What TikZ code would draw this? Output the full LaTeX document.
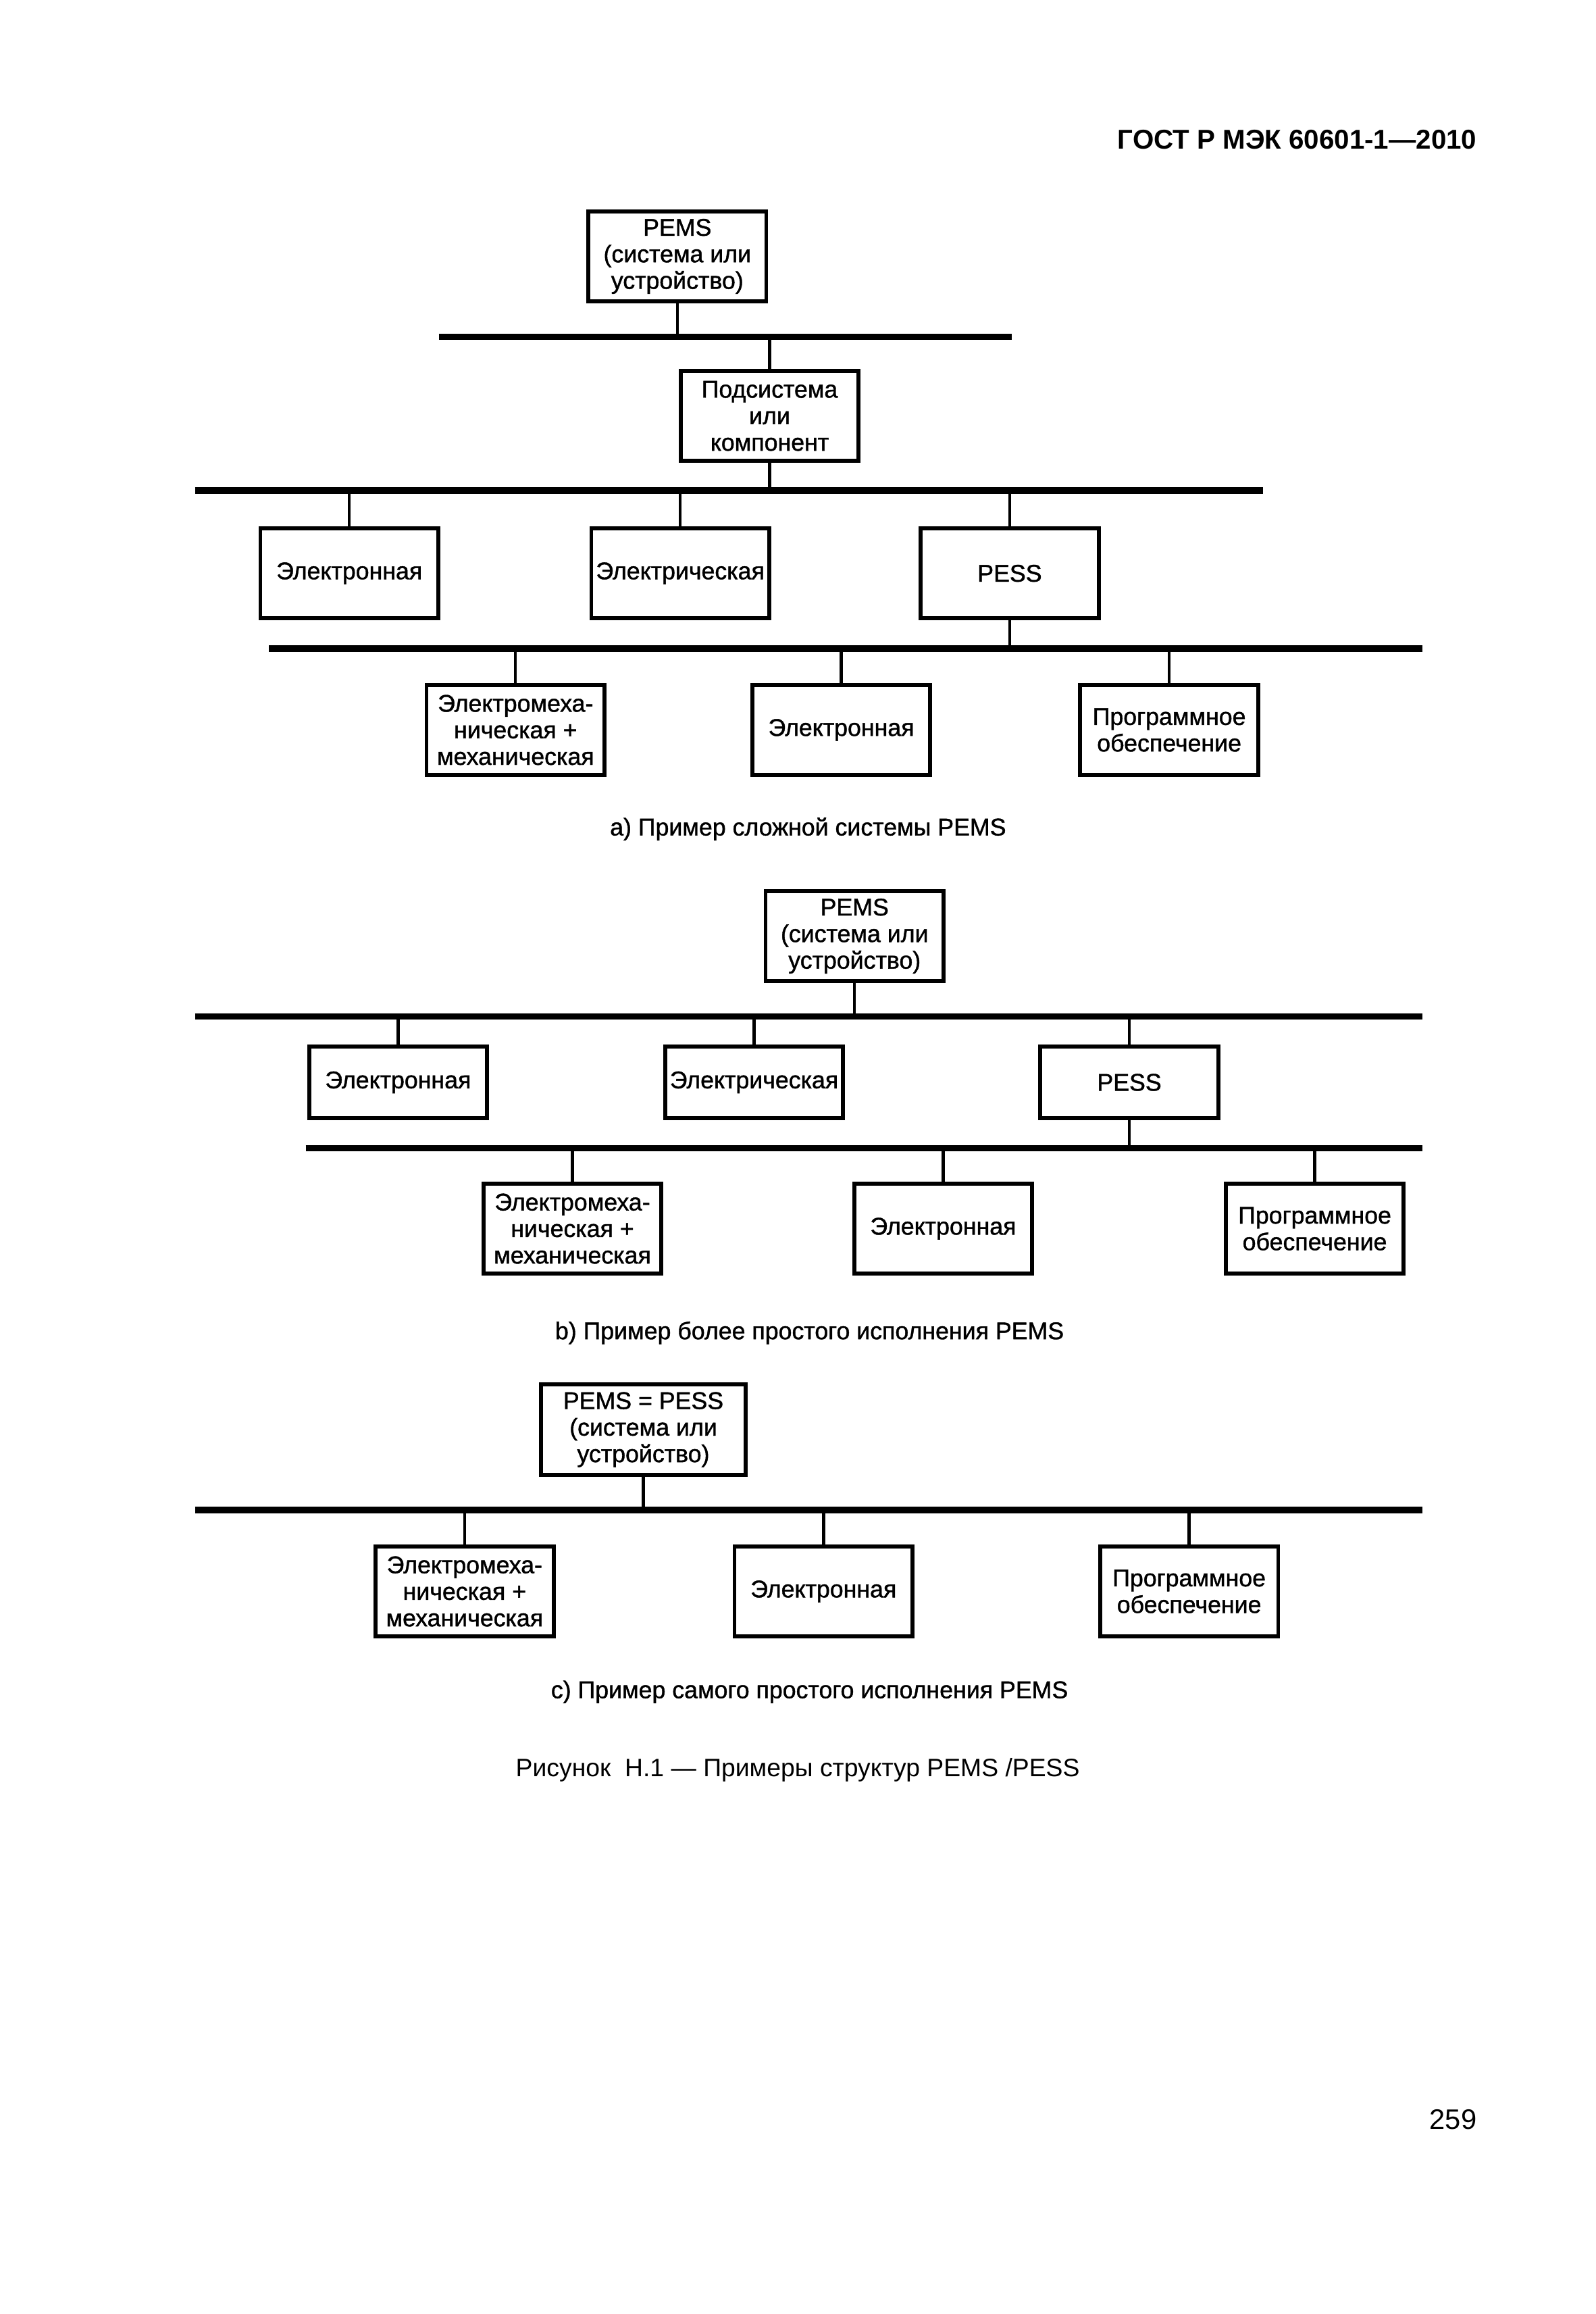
\documentclass[tikz,border=0pt]{standalone}
\usepackage{fontspec}
\setmainfont{Liberation Sans}
\newfontfamily\heavyfont[FakeBold=1.2]{Liberation Sans}
\begin{document}
\begin{tikzpicture}[x=0.551pt,y=-0.551pt,
  box/.style={draw, line width=1.45pt, inner sep=0pt, align=center,
    minimum width=66.4pt, minimum height=33.6pt, font=\heavyfont\fontsize{9}{9.9}\selectfont},
  lowbox/.style={box, minimum height=26.8pt},
  widebox/.style={box, minimum width=76.3pt},
  bar/.style={line width=2.4pt},
  wire/.style={line width=1.1pt},
  captxt/.style={font=\heavyfont\fontsize{9}{11}\selectfont},
]
\useasboundingbox (0,0) rectangle (1080,1566);

% header and page number
\node[anchor=base east, inner sep=0pt, font=\bfseries\fontsize{10.15}{12}\selectfont] (hdr) at (1000,101) {ГОСТ Р МЭК 60601-1—2010};
\node[anchor=base east, inner sep=0pt, font=\fontsize{10.5}{12}\selectfont] (pg) at (1000,1441) {259};

% ---------------- a ----------------
\node[box] (a0) at (458.5,173.5) {PEMS\\(система или\\устройство)};
\coordinate (a1L) at (297,228); \coordinate (a1R) at (685,228);
\draw[bar] (a1L) -- (a1R);
\draw[wire] (a0.south) -- (a0.south |- a1L);
\node[box] (a1) at (521,281.5) {Подсистема\\или\\компонент};
\draw[wire] (a1.north) -- (a1.north |- a1L);
\coordinate (a2L) at (132,332); \coordinate (a2R) at (855,332);
\draw[bar] (a2L) -- (a2R);
\draw[wire] (a1.south) -- (a1.south |- a2L);
\node[box] (aE1) at (236.5,388) {Электронная};
\node[box] (aE2) at (460.5,388) {Электрическая};
\node[box] (aP) at (683.5,388) {PESS};
\foreach \n in {aE1,aE2,aP} \draw[wire] (\n.north) -- (\n.north |- a2L);
\coordinate (a3L) at (182,439); \coordinate (a3R) at (963,439);
\draw[bar] (a3L) -- (a3R);
\draw[wire] (aP.south) -- (aP.south |- a3L);
\node[box] (aM) at (349,494) {Электромеха-\\ническая +\\механическая};
\node[box] (aN) at (569.5,494) {Электронная};
\node[box] (aS) at (791.5,494) {Программное\\обеспечение};
\foreach \n in {aM,aN,aS} \draw[wire] (\n.north) -- (\n.north |- a3L);
\node[captxt] (capa) at (547,561) {а) Пример сложной системы PEMS};

% ---------------- b ----------------
\node[box] (b0) at (578.5,633.5) {PEMS\\(система или\\устройство)};
\coordinate (b1L) at (132,688); \coordinate (b1R) at (963,688);
\draw[bar] (b1L) -- (b1R);
\draw[wire] (b0.south) -- (b0.south |- b1L);
\node[lowbox] (bE1) at (269.5,732.5) {Электронная};
\node[lowbox] (bE2) at (510.5,732.5) {Электрическая};
\node[lowbox] (bP) at (764.5,732.5) {PESS};
\foreach \n in {bE1,bE2,bP} \draw[wire] (\n.north) -- (\n.north |- b1L);
\coordinate (b2L) at (207,777); \coordinate (b2R) at (963,777);
\draw[bar] (b2L) -- (b2R);
\draw[wire] (bP.south) -- (bP.south |- b2L);
\node[box] (bM) at (387.5,831.5) {Электромеха-\\ническая +\\механическая};
\node[box] (bN) at (638.5,831.5) {Электронная};
\node[box] (bS) at (890,831.5) {Программное\\обеспечение};
\foreach \n in {bM,bN,bS} \draw[wire] (\n.north) -- (\n.north |- b2L);
\node[captxt] (capb) at (548,902) {b) Пример более простого исполнения PEMS};

% ---------------- c ----------------
\node[widebox] (c0) at (435.5,967.5) {PEMS = PESS\\(система или\\устройство)};
\coordinate (c1L) at (132,1022); \coordinate (c1R) at (963,1022);
\draw[bar] (c1L) -- (c1R);
\draw[wire] (c0.south) -- (c0.south |- c1L);
\node[box] (cM) at (314.5,1077) {Электромеха-\\ническая +\\механическая};
\node[box] (cN) at (557.5,1077) {Электронная};
\node[box] (cS) at (805,1077) {Программное\\обеспечение};
\foreach \n in {cM,cN,cS} \draw[wire] (\n.north) -- (\n.north |- c1L);
\node[captxt] (capc) at (548,1145) {с) Пример самого простого исполнения PEMS};

\node[font=\fontsize{9.4}{11}\selectfont] (fig) at (540,1198) {Рисунок\ \ Н.1 — Примеры структур PEMS /PESS};
\end{tikzpicture}
\end{document}
